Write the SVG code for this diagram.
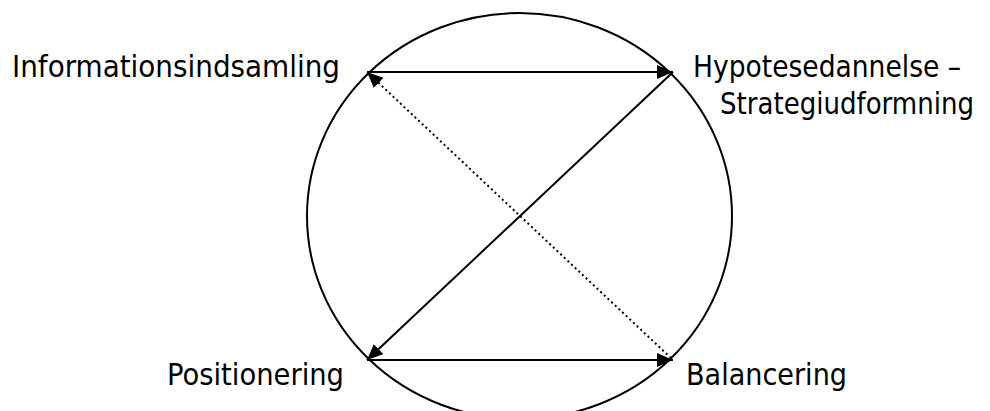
<svg xmlns="http://www.w3.org/2000/svg" width="990" height="411" viewBox="0 0 990 411">
<style>
.lbl{font-family:"DejaVu Sans Condensed","DejaVu Sans","Liberation Sans",sans-serif;font-stretch:condensed;font-size:30px;fill:#000}
.ln{stroke:#000;stroke-width:2;fill:none}
</style>
<defs>
<marker id="ah" markerUnits="userSpaceOnUse" markerWidth="18" markerHeight="16" refX="16" refY="7" orient="auto">
<path d="M0,0 L16,7 L0,14 z" fill="#000"/>
</marker>
</defs>
<rect width="990" height="411" fill="#fff"/>
<g id="circle"><ellipse cx="519.5" cy="216" rx="212.5" ry="203" fill="none" stroke="#000" stroke-width="2"/></g>
<g id="connectors">
<line class="ln" x1="367" y1="72" x2="673" y2="72" marker-end="url(#ah)"/>
<line class="ln" x1="673" y1="72" x2="367" y2="360" marker-end="url(#ah)"/>
<line class="ln" x1="367" y1="360" x2="673" y2="360" marker-end="url(#ah)"/>
<line class="ln" x1="671" y1="358" x2="367" y2="72" stroke-dasharray="2,3" marker-end="url(#ah)"/>
</g>
<g id="n1"><text class="lbl" x="12" y="77" textLength="328" lengthAdjust="spacingAndGlyphs">Informationsindsamling</text></g>
<g id="n2"><text class="lbl" x="693" y="77" textLength="268" lengthAdjust="spacingAndGlyphs">Hypotesedannelse –</text><text class="lbl" x="720" y="114" textLength="254" lengthAdjust="spacingAndGlyphs">Strategiudformning</text></g>
<g id="n3"><text class="lbl" x="167" y="385" textLength="177" lengthAdjust="spacingAndGlyphs">Positionering</text></g>
<g id="n4"><text class="lbl" x="686" y="385" textLength="161" lengthAdjust="spacingAndGlyphs">Balancering</text></g>
</svg>
